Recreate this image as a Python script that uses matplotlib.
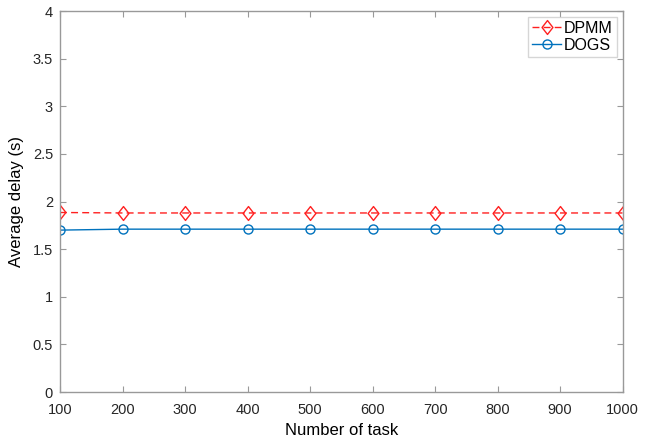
import matplotlib
matplotlib.use("Agg")
import matplotlib.pyplot as plt
from matplotlib.path import Path

plt.rcParams['font.family'] = ['Liberation Sans', 'DejaVu Sans']

# Task counts and the average delays
tasks = [100, 200, 300, 400, 500, 600, 700, 800, 900, 1000]
dpmm_delay = [1.885, 1.88, 1.88, 1.88, 1.88, 1.88, 1.88, 1.88, 1.88, 1.88]
dogs_delay = [1.70, 1.71, 1.71, 1.71, 1.71, 1.71, 1.71, 1.71, 1.71, 1.71]

# MATLAB style diamond: a bit narrower than it is tall
diamond = Path([(0, 1), (0.78, 0), (0, -1), (-0.78, 0), (0, 1)],
               [Path.MOVETO, Path.LINETO, Path.LINETO, Path.LINETO, Path.CLOSEPOLY])

fig = plt.figure(figsize=(6.52, 4.41), dpi=100)
ax = fig.add_axes([0.092, 0.111, 0.863, 0.864])

ax.plot(tasks, dpmm_delay, linestyle=(0, (5, 3)), color='#ff2020', marker=diamond,
        markersize=10, markerfacecolor='none', markeredgewidth=1.0, linewidth=1.0,
        label='DPMM')
ax.plot(tasks, dogs_delay, linestyle='-', color='#0072bd', marker='o',
        markersize=6.5, markerfacecolor='none', markeredgewidth=1.0, linewidth=1.0,
        label='DOGS')

ax.set_xlim(100, 1000)
ax.set_ylim(0, 4)
ax.set_xticks(tasks)
ax.set_yticks([0, 0.5, 1, 1.5, 2, 2.5, 3, 3.5, 4])
ax.set_yticklabels(['0', '0.5', '1', '1.5', '2', '2.5', '3', '3.5', '4'])
ax.set_xlabel('Number of task', fontsize=12, labelpad=4)
ax.set_ylabel('Average delay (s)', fontsize=12, labelpad=6)

for s in ax.spines.values():
    s.set_color('#999999')
    s.set_linewidth(1.0)
ax.tick_params(direction='in', length=4, colors='#999999', labelcolor='#262626',
               labelsize=10.5, top=True, right=True)
ax.tick_params(axis='x', pad=8)
ax.tick_params(axis='y', pad=5)

leg = ax.legend(loc='upper right', fontsize=11.5, frameon=True, fancybox=False,
                edgecolor='#cccccc', handlelength=1.8, borderpad=0.25,
                labelspacing=0.15, handletextpad=0.2, borderaxespad=0.35)
leg.get_frame().set_linewidth(1.0)

fig.savefig('out.png', dpi=100)
